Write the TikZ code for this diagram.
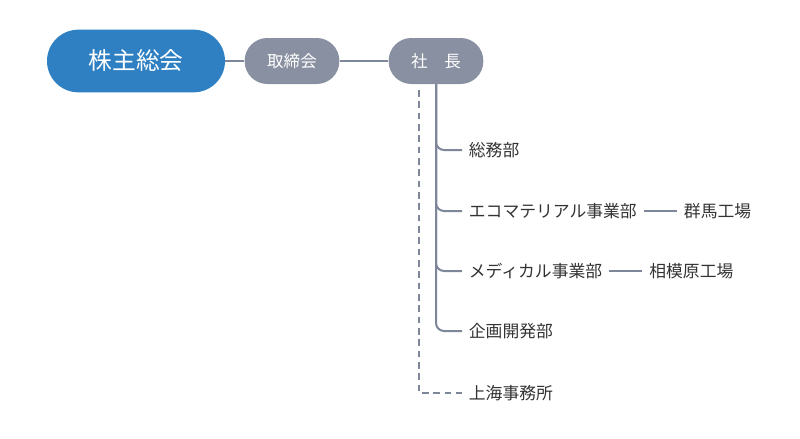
\documentclass[tikz,border=0pt]{standalone}
\usepackage{fontspec}
\setmainfont{Noto Sans CJK JP}
\usetikzlibrary{positioning}
\definecolor{kblue}{HTML}{2E80C2}
\definecolor{kgray}{HTML}{8990A1}
\definecolor{kline}{HTML}{7E8699}
\begin{document}
\begin{tikzpicture}[x=0.75pt,y=-0.75pt,
    pill/.style={rectangle, fill=kgray, text=white, font=\fontsize{12.4}{14}\selectfont,
      minimum width=71pt, minimum height=34.5pt, rounded corners=17pt, inner sep=0pt},
    unit/.style={anchor=west, inner sep=5pt, font=\fontsize{12.6}{15}\selectfont, text=black!80},
    conn/.style={draw=kline, line width=1.5pt}]
  \useasboundingbox (0,0) rectangle (800,439);
  \node[pill, fill=kblue, minimum width=133.5pt, minimum height=47pt, rounded corners=23.5pt,
    font=\fontsize{17.8}{20}\selectfont] (A) at (136,61) {株主総会};
  \node[pill] (B) at (292,61) {取締会};
  \node[pill] (C) at (436,61) {社\hspace{1em}長};
  \node[unit] (D) at (462,150) {総務部};
  \node[unit] (E) at (462,211) {エコマテリアル事業部};
  \node[unit, right=25pt of E] (F) {群馬工場};
  \node[unit] (G) at (462,271) {メディカル事業部};
  \node[unit, right=25pt of G] (H) {相模原工場};
  \node[unit] (I) at (462,331) {企画開発部};
  \node[unit] (J) at (462,393) {上海事務所};
  \coordinate (K) at (419,90);
  \draw[conn] (A) -- (B);
  \draw[conn] (B) -- (C);
  \foreach \n in {D,E,G,I}
    \draw[conn, rounded corners=6pt] (C.south) |- (\n.west);
  \draw[conn] (E) -- (F);
  \draw[conn] (G) -- (H);
  \draw[conn, dash pattern=on 5pt off 3.5pt] (K) |- (J.west);
\end{tikzpicture}
\end{document}
